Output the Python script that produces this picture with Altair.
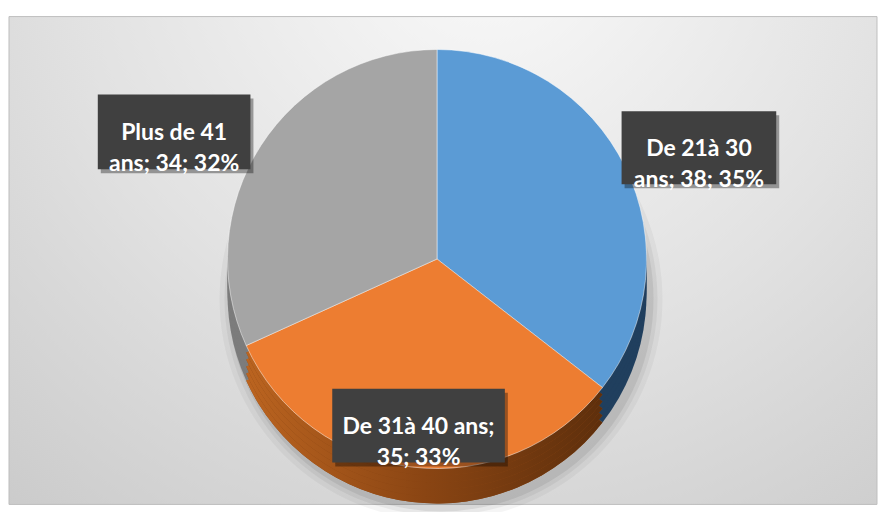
import textwrap
import altair as alt
import pandas as pd

# ---- data ----
categories = ["De 21à 30 ans", "De 31à 40 ans", "Plus de 41 ans"]
values = [38, 35, 34]
percents = [35, 33, 32]

# ---- styling / layout (kept separate from data) ----
top_colors = ["#5b9bd5", "#ed7d31", "#a5a5a5"]
side_colors = ["#203f5e", "#8a4513", "#7c7c7c"]
wrap_widths = [12, 14, 12]
W, H = 870, 489
CX, CY, R = 429, 243, 210
side_offsets = [35, 28, 21, 14, 7]
# label boxes: (x0, x1, y0, y1) in view pixels
label_boxes = {
    "De 21à 30 ans": (614, 769, 95, 168),
    "De 31à 40 ans": (324, 497, 373, 447),
    "Plus de 41 ans": (89, 242, 78, 153),
}

labels = [
    "\n".join(textwrap.wrap(f"{c}; {v}; {p}%", w))
    for c, v, p, w in zip(categories, values, percents, wrap_widths)
]
df = pd.DataFrame({
    "cat": categories,
    "value": values,
    "label": labels,
    "idx": list(range(len(categories))),
})
one = pd.DataFrame({"v": [1]})

base = (
    alt.Chart(df)
    .transform_joinaggregate(total="sum(value)")
    .transform_window(cum="sum(value)", sort=[alt.SortField("idx")])
    .transform_calculate(
        a0="2*PI*(datum.cum - datum.value)/datum.total",
        a1="2*PI*datum.cum/datum.total",
    )
)

color_top = alt.Color("cat:N", scale=alt.Scale(domain=categories, range=top_colors), legend=None)
color_side = alt.Color("cat:N", scale=alt.Scale(domain=categories, range=side_colors), legend=None)

bg = alt.Chart(one).mark_rect(
    fill=alt.RadialGradient(
        gradient="radial",
        stops=[alt.GradientStop(color="#fafafa", offset=0),
               alt.GradientStop(color="#e2e2e2", offset=0.5),
               alt.GradientStop(color="#c6c6c6", offset=1)],
        x1=0.55, y1=0.12, r1=0, x2=0.55, y2=0.12, r2=0.95),
    stroke="#bfbfbf", strokeWidth=1,
).encode(x=alt.value(0), x2=alt.value(W), y=alt.value(0), y2=alt.value(H))

layers = [bg]

# soft shadow under the pie
for rr, op in [(R + 12, 0.04), (R + 7, 0.05), (R + 3, 0.07)]:
    layers.append(
        alt.Chart(one).mark_arc(outerRadius=rr, fill="#000000", opacity=op)
        .encode(theta=alt.Theta("v:Q"), x=alt.value(CX + 4), y=alt.value(CY + 40))
    )

orange_side = alt.LinearGradient(
    gradient="linear",
    stops=[alt.GradientStop(color="#bb6420", offset=0),
           alt.GradientStop(color="#8a4513", offset=0.5),
           alt.GradientStop(color="#5e2f0c", offset=1)],
    x1=0, x2=1, y1=0, y2=0)

side_layers = []
for off in side_offsets:
    side_layers.append(
        base.mark_arc(outerRadius=R).encode(
            theta=alt.Theta("a0:Q", scale=None), theta2="a1:Q",
            color=color_side, x=alt.value(CX), y=alt.value(CY + off))
    )
    side_layers.append(
        base.transform_filter(alt.datum.cat == categories[1])
        .mark_arc(outerRadius=R, fill=orange_side).encode(
            theta=alt.Theta("a0:Q", scale=None), theta2="a1:Q",
            x=alt.value(CX), y=alt.value(CY + off))
    )
layers.append(alt.layer(*side_layers))

# top face
layers.append(
    base.mark_arc(outerRadius=R, stroke="#ffffff", strokeWidth=0.8, strokeOpacity=0.6).encode(
        theta=alt.Theta("a0:Q", scale=None), theta2="a1:Q",
        color=color_top, x=alt.value(CX), y=alt.value(CY))
)

# data labels in dark boxes
for cat in categories:
    x0, x1, y0, y1 = label_boxes[cat]
    sub = alt.Chart(df).transform_filter(alt.datum.cat == cat)
    layers.append(sub.mark_rect(fill="#000000", opacity=0.35).encode(
        x=alt.value(x0 + 3), x2=alt.value(x1 + 3), y=alt.value(y0 + 4), y2=alt.value(y1 + 4)))
    layers.append(sub.mark_rect(fill="#404040").encode(
        x=alt.value(x0), x2=alt.value(x1), y=alt.value(y0), y2=alt.value(y1)))
    layers.append(sub.mark_text(
        font="Lato", fontSize=23, fontWeight="bold", color="#ffffff",
        align="center", baseline="middle", lineBreak="\n", lineHeight=31,
    ).encode(text="label:N", x=alt.value((x0 + x1) / 2), y=alt.value((y0 + y1) / 2 + 1)))

chart = alt.layer(*layers).resolve_scale(color="independent").properties(
    width=W, height=H,
    padding={"left": 0, "top": 7, "right": 0, "bottom": 0},
).configure_view(stroke=None)

chart.save("out.html", embed_options={"renderer": "svg", "actions": False})
